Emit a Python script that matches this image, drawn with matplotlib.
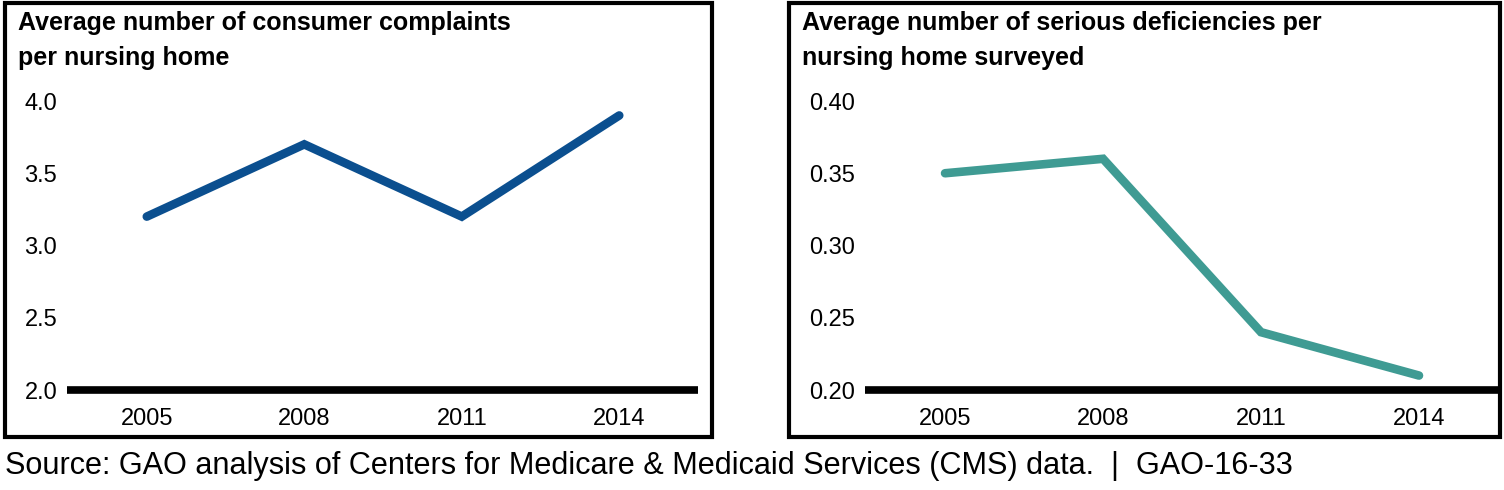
import matplotlib
matplotlib.use("Agg")
import matplotlib.pyplot as plt
from matplotlib.patches import Rectangle

plt.rcParams['font.family'] = ['Liberation Sans', 'DejaVu Sans']

years = [2005, 2008, 2011, 2014]
complaints = [3.2, 3.7, 3.2, 3.9]
deficiencies = [0.35, 0.36, 0.24, 0.21]

left_title = "Average number of consumer complaints\nper nursing home"
right_title = "Average number of serious deficiencies per\nnursing home surveyed"
left_ticks = [2.0, 2.5, 3.0, 3.5, 4.0]
left_ticklabels = ["2.0", "2.5", "3.0", "3.5", "4.0"]
right_ticks = [0.20, 0.25, 0.30, 0.35, 0.40]
right_ticklabels = ["0.20", "0.25", "0.30", "0.35", "0.40"]
source = "Source: GAO analysis of Centers for Medicare & Medicaid Services (CMS) data.  |  GAO-16-33"

W, H = 1504, 490
fig = plt.figure(figsize=(W / 100, H / 100), dpi=100)


def px_box(x0, y0, x1, y1):
    # pixel box (top-left origin) -> figure fraction [l, b, w, h]
    return [x0 / W, 1 - y1 / H, (x1 - x0) / W, (y1 - y0) / H]


def panel(box, axbox, yvals, color, ticks, ticklabels, title, ylim):
    fig.patches.append(Rectangle((box[0], box[1]), box[2], box[3],
                                 transform=fig.transFigure, fill=False,
                                 edgecolor='black', linewidth=3, zorder=0))
    ax = fig.add_axes(axbox)
    ax.plot(years, yvals, color=color, linewidth=6.2, solid_capstyle='round',
            solid_joinstyle='miter', clip_on=False, zorder=3)
    ax.axhline(ylim[0], color='black', linewidth=5.5, zorder=2, clip_on=False,
               solid_capstyle='butt')
    ax.set_xlim(2003.48, 2015.5)
    ax.set_ylim(*ylim)
    ax.set_xticks(years)
    ax.set_xticklabels([str(y) for y in years], fontsize=17)
    ax.set_yticks(ticks)
    ax.set_yticklabels(ticklabels, fontsize=17)
    ax.tick_params(length=0, pad=7)
    ax.tick_params(axis='x', pad=13)
    for s in ax.spines.values():
        s.set_visible(False)
    ax.patch.set_alpha(0)
    fig.text(box[0] + 13 / W, 1 - 11 / H, title, fontsize=18, fontweight='bold',
             va='top', ha='left', linespacing=1.6)
    return ax


panel(px_box(5, 3, 712, 437), px_box(67, 101, 698, 390), complaints,
      '#0b4f8f', left_ticks, left_ticklabels, left_title, (2.0, 4.0))
panel(px_box(789, 3, 1500, 437), px_box(865, 101, 1498, 390), deficiencies,
      '#3f9b93', right_ticks, right_ticklabels, right_title, (0.20, 0.40))

fig.text(5 / W, 1 - 466 / H, source, fontsize=22.1, va='center', ha='left')

fig.savefig('out.png', dpi=100)
